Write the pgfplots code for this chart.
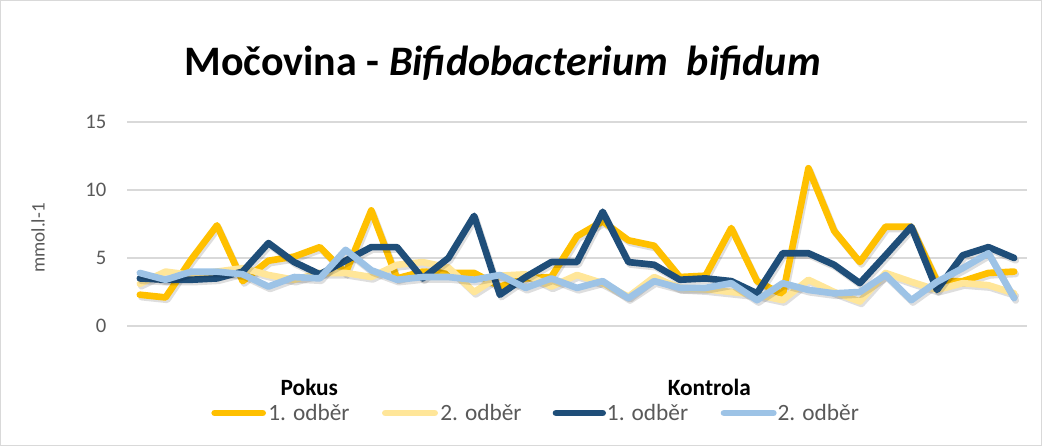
\documentclass[border=0pt]{standalone}
\usepackage{fontspec}
\setmainfont{Carlito}
\usepackage{pgfplots}
\pgfplotsset{compat=1.18}
\definecolor{PokusA}{HTML}{FFC000}
\definecolor{PokusB}{HTML}{FFE699}
\definecolor{KontrA}{HTML}{1F4E79}
\definecolor{KontrB}{HTML}{9DC3E6}
\definecolor{Grid}{HTML}{D9D9D9}
\definecolor{Txt}{HTML}{595959}

% 35 samples, mmol.l-1
\pgfplotstableread{
i  pa   pb   ka   kb
0  2.3  3.1  3.5  3.9
1  2.1  4.0  3.4  3.4
2  4.9  3.75 3.4  4.0
3  7.4  4.0  3.5  4.0
4  3.3  4.25 4.0  3.8
5  4.8  3.75 6.1  2.9
6  5.1  3.4  4.7  3.6
7  5.8  3.9  3.8  3.5
8  3.9  3.9  4.8  5.6
9  8.5  3.6  5.8  4.1
10 3.5  4.5  5.8  3.4
11 4.0  4.7  3.5  3.6
12 3.9  4.3  5.0  3.6
13 3.9  2.5  8.1  3.4
14 2.9  3.7  2.3  3.75
15 3.5  3.8  3.6  2.8
16 3.6  2.9  4.7  3.5
17 6.6  3.75 4.7  2.8
18 7.7  3.15 8.4  3.3
19 6.3  2.15 4.7  2.05
20 5.9  3.6  4.5  3.3
21 3.6  2.8  3.4  2.8
22 3.7  2.7  3.5  2.8
23 7.2  2.5  3.3  3.15
24 3.3  2.3  2.4  1.9
25 2.3  1.9  5.35 3.15
26 11.6 3.4  5.35 2.65
27 7.0  2.5  4.5  2.4
28 4.7  1.8  3.15 2.5
29 7.3  3.9  5.2  3.75
30 7.3  3.25 7.3  1.9
31 3.3  2.65 2.65 3.25
32 3.3  3.15 5.2  4.25
33 3.9  3.0  5.8  5.35
34 4.0  2.4  5.0  2.05
}\data

\begin{document}
\begin{tikzpicture}
  % chart frame, 1042 x 446 px at 0.75pt per px
  \draw[Grid, line width=0.75pt] (0.4pt,0.4pt) rectangle (781.1pt,334.1pt);
  \path (0,0) rectangle (781.5pt,334.5pt);

  \node[anchor=base, font=\fontsize{31.5}{36}\selectfont\bfseries]
    at (377pt,278pt) {Močovina - \textit{Bifidobacterium\hspace{0.45em}bifidum}};

  \node[rotate=90, font=\fontsize{14.3}{16}\selectfont, color=Txt]
    at (28.5pt,156pt) {mmol.l-1};

  \begin{axis}[
      at={(95.25pt,90pt)}, anchor=south west,
      scale only axis,
      width=675pt, height=153pt,
      xmin=-0.5, xmax=34.5,
      ymin=0, ymax=15,
      ytick={0,5,10,15},
      xtick=\empty,
      axis line style={draw=none},
      tick style={draw=none},
      ymajorgrids=true,
      major grid style={draw=Grid, line width=1pt},
      y tick label style={font=\fontsize{15.5}{18}\selectfont, color=Txt},
      yticklabel style={anchor=east, xshift=-12pt},
      /pgf/number format/assume math mode=true,
      every axis plot/.append style={line width=5pt, line join=round, line cap=round,
        preaction={draw=black, opacity=0.13, transform canvas={xshift=1.2pt, yshift=-1.8pt}}},
      clip=false]
    \addplot[color=PokusA] table[x=i, y=pa] {\data};
    \addplot[color=PokusB] table[x=i, y=pb] {\data};
    \addplot[color=KontrA] table[x=i, y=ka] {\data};
    \addplot[color=KontrB] table[x=i, y=kb] {\data};
  \end{axis}

  % legend
  \node[anchor=base, font=\fontsize{17.5}{20}\selectfont\bfseries] at (232pt,37.5pt) {Pokus};
  \node[anchor=base, font=\fontsize{17.5}{20}\selectfont\bfseries] at (532pt,37.5pt) {Kontrola};
  \begin{scope}[line width=5pt, line cap=round]
    \draw[PokusA] (161pt,24.75pt) -- (197pt,24.75pt);
    \draw[PokusB] (289pt,24.75pt) -- (326pt,24.75pt);
    \draw[KontrA] (417pt,24.75pt) -- (452pt,24.75pt);
    \draw[KontrB] (543pt,24.75pt) -- (580pt,24.75pt);
  \end{scope}
  \begin{scope}[every node/.style={anchor=base west, inner sep=0pt,
      font=\fontsize{17.5}{20}\selectfont, color=Txt}]
    \node at (201pt,19pt) {1. odběr};
    \node at (330pt,19pt) {2. odběr};
    \node at (455pt,19pt) {1. odběr};
    \node at (583pt,19pt) {2. odběr};
  \end{scope}
\end{tikzpicture}
\end{document}
